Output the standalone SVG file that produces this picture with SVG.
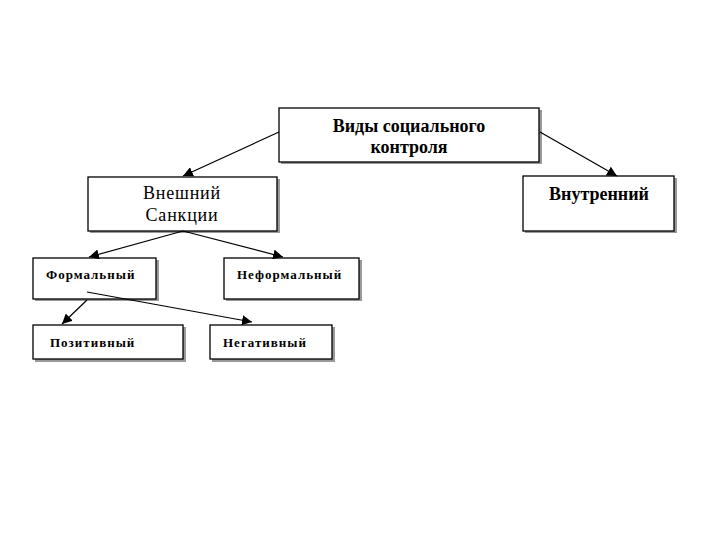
<svg xmlns="http://www.w3.org/2000/svg" width="720" height="540" viewBox="0 0 720 540">
<defs>
<marker id="ah" viewBox="0 0 10 10" refX="10" refY="5" markerWidth="10" markerHeight="10" markerUnits="userSpaceOnUse" orient="auto">
<path d="M0,0 L10,5 L0,10 Z" fill="#000"/>
</marker>
</defs>
<style>
.box{fill:#fff;stroke:#000;stroke-width:1.3}
.sh{fill:#999}
text{font-family:'Liberation Serif','DejaVu Serif',serif;fill:#000}
.b{font-weight:bold}
.big{font-size:18px}
.sm{font-size:13px;letter-spacing:1px}
.ln{stroke:#000;stroke-width:1.2;fill:none;marker-end:url(#ah)}
</style>
<rect width="720" height="540" fill="#fff"/>
<g id="n1">
<rect class="sh" x="281" y="110" width="261" height="54"/>
<rect class="box" x="279" y="108" width="260" height="54"/>
<text class="b big" x="409" y="132" text-anchor="middle">Виды социального</text>
<text class="b big" x="409" y="153" text-anchor="middle">контроля</text>
</g>
<g id="n2">
<rect class="sh" x="90" y="179" width="190" height="54"/>
<rect class="box" x="88" y="177" width="189" height="54"/>
<text class="big" x="182" y="199" text-anchor="middle" letter-spacing="0.8">Внешний</text>
<text class="big" x="182" y="221" text-anchor="middle" letter-spacing="0.8">Санкции</text>
</g>
<g id="n3">
<rect class="sh" x="525" y="178" width="152" height="55"/>
<rect class="box" x="523" y="176" width="151" height="55"/>
<text class="b big" x="599" y="200" text-anchor="middle">Внутренний</text>
</g>
<g id="n4">
<rect class="sh" x="35" y="260" width="124" height="41"/>
<rect class="box" x="33" y="258" width="123" height="41"/>
<text class="b sm" x="46" y="279">Формальный</text>
</g>
<g id="n5">
<rect class="sh" x="226" y="260" width="136" height="41"/>
<rect class="box" x="224" y="258" width="135" height="41"/>
<text class="b sm" x="237" y="279">Неформальный</text>
</g>
<g id="n6">
<rect class="sh" x="35" y="327" width="151" height="35"/>
<rect class="box" x="33" y="325" width="150" height="34"/>
<text class="b sm" x="50" y="347">Позитивный</text>
</g>
<g id="n7">
<rect class="sh" x="212" y="327" width="123" height="35"/>
<rect class="box" x="210" y="325" width="122" height="34"/>
<text class="b sm" x="223" y="347">Негативный</text>
</g>
<g id="connectors">
<line class="ln" x1="279" y1="132" x2="183" y2="176"/>
<line class="ln" x1="540" y1="132" x2="617" y2="176"/>
<line class="ln" x1="183" y1="231" x2="89" y2="257"/>
<line class="ln" x1="183" y1="231" x2="283" y2="257"/>
<line class="ln" x1="87" y1="300" x2="62" y2="324"/>
<line class="ln" x1="87" y1="292" x2="252" y2="322"/>
</g>
</svg>
